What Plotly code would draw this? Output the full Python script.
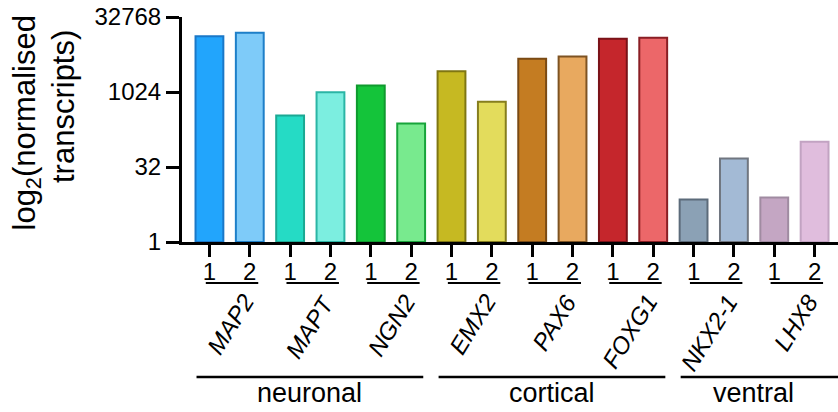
import plotly.graph_objects as go

# ---- data ----
genes = ["MAP2", "MAPT", "NGN2", "EMX2", "PAX6", "FOXG1", "NKX2-1", "LHX8"]
replicates = ["1", "2"]
rep1_log2 = [13.72, 8.43, 10.43, 11.39, 12.21, 13.55, 2.83, 2.97]
rep2_log2 = [13.95, 9.99, 7.90, 9.35, 12.37, 13.61, 5.57, 6.68]
groups = ["neuronal", "cortical", "ventral"]
group_first_gene = [0, 3, 6]
group_last_gene = [2, 5, 7]
ytick_vals = [0, 5, 10, 15]
ytick_text = ["1", "32", "1024", "32768"]

# ---- styles ----
fill1 = ["#22A5FC", "#25DBC5", "#14C43A", "#C6B922", "#C47C22", "#C5262C", "#8BA1B5", "#C4A6C3"]
fill2 = ["#7ECBF9", "#7CEEE0", "#78EA8E", "#E3DC5C", "#E8A95F", "#EC6769", "#A3BAD5", "#E0BDDD"]
edge1 = ["#1A78C8", "#1BA893", "#0F9A2E", "#7F7612", "#7A4A14", "#7A1218", "#5C6B7A", "#A08BA1"]
edge2 = ["#1E7FC8", "#2BB5A5", "#17A43A", "#867E1E", "#7E5322", "#8A1E24", "#707680", "#C2A3C2"]
FONT = "Liberation Sans, Arial, Helvetica, sans-serif"

xs, ys, fills, edges, ticktext = [], [], [], [], []
for i in range(len(genes)):
    for r, vals, fl, ed in ((0, rep1_log2, fill1, edge1), (1, rep2_log2, fill2, edge2)):
        xs.append(2 * i + r)
        ys.append(vals[i])
        fills.append(fl[i])
        edges.append(ed[i])
        ticktext.append(replicates[r])

fig = go.Figure(go.Bar(
    x=xs, y=ys, width=0.69,
    marker=dict(color=fills, line=dict(color=edges, width=2)),
    hoverinfo="skip",
))

TOP, BOTTOM, LEFT = 17, 242, 182
PLOT_H = float(BOTTOM - TOP)
PLOT_W = float(838 - LEFT)
def py(pix):  # pixel row -> paper y
    return (BOTTOM - pix) / PLOT_H
def px(pix):  # pixel column -> paper x
    return (pix - LEFT) / PLOT_W

shapes = []
annotations = []
for i, g in enumerate(genes):
    a, b = 2 * i, 2 * i + 1
    shapes.append(dict(type="line", xref="x", yref="paper", x0=a - 0.09, x1=b + 0.21,
                       y0=py(283), y1=py(283), line=dict(color="black", width=2)))
    annotations.append(dict(xref="x", yref="paper", x=(a + b) / 2, y=py(287),
                            xshift=32, text=g, showarrow=False, textangle=-58,
                            xanchor="right", yanchor="top",
                            font=dict(family=FONT, size=24, color="black", style="italic")))

for name, gf, gl in zip(groups, group_first_gene, group_last_gene):
    x0 = 2 * gf - 0.32
    x1 = 2 * gl + 1 + 0.3 if name != "ventral" else 16.5
    shapes.append(dict(type="line", xref="x", yref="paper", x0=x0, x1=x1,
                       y0=py(377), y1=py(377), line=dict(color="black", width=2.5)))
    xc = (2 * gf - 0.32 + 2 * gl + 1 + 0.3) / 2
    annotations.append(dict(xref="x", yref="paper", x=xc, y=py(393), text=name,
                            showarrow=False, xanchor="center", yanchor="middle",
                            font=dict(family=FONT, size=27, color="black")))

# y-axis title as two rotated lines
annotations.append(dict(xref="paper", yref="paper", x=px(26), y=py(123.5),
                        text="log<sub>2</sub>(normalised", showarrow=False, textangle=-90,
                        xanchor="center", yanchor="middle",
                        font=dict(family=FONT, size=31, color="black")))
annotations.append(dict(xref="paper", yref="paper", x=px(63), y=py(107),
                        text="transcripts)", showarrow=False, textangle=-90,
                        xanchor="center", yanchor="middle",
                        font=dict(family=FONT, size=31, color="black")))

fig.update_layout(
    width=838, height=412,
    margin=dict(l=LEFT, r=0, t=TOP, b=412 - BOTTOM, pad=0, autoexpand=False),
    paper_bgcolor="white", plot_bgcolor="white",
    showlegend=False,
    shapes=shapes, annotations=annotations,
    font=dict(family=FONT, color="black"),
    bargap=0,
)
fig.update_xaxes(
    range=[-0.68, 15.58], tickmode="array", tickvals=xs, ticktext=ticktext,
    automargin=False,
    showgrid=False, zeroline=False, showline=True, linecolor="black", linewidth=3,
    ticks="outside", ticklen=12, tickwidth=3, tickcolor="black",
    ticklabelstandoff=-6,
    tickfont=dict(family=FONT, size=24, color="black"),
)
fig.update_yaxes(
    range=[0, 15], tickmode="array", tickvals=ytick_vals, ticktext=ytick_text,
    automargin=False,
    showgrid=False, zeroline=False, showline=True, linecolor="black", linewidth=3,
    ticks="outside", ticklen=13, tickwidth=3, tickcolor="black",
    tickfont=dict(family=FONT, size=24, color="black"),
)

fig.write_html("out.html", config={"displayModeBar": False, "staticPlot": True},
               post_script="document.body.style.margin='0';document.body.style.padding='0';")
